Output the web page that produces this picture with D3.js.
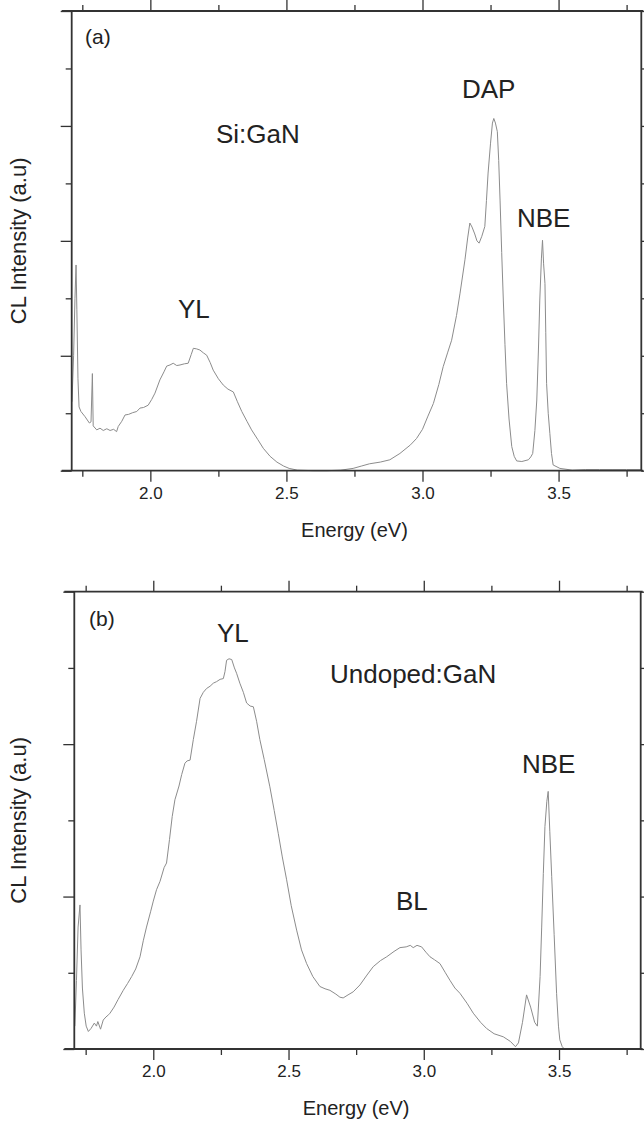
<!DOCTYPE html>
<html>
<head>
<meta charset="utf-8">
<script src="https://cdn.jsdelivr.net/npm/d3@7/dist/d3.min.js"></script>
<style>
html,body{margin:0;padding:0;background:#fff;}
svg{display:block;}
text{font-family:"Liberation Sans",Arial,sans-serif;fill:#222;}
</style>
</head>
<body>
<svg id="chart" width="644" height="1124"></svg>
<script>
// ---------- DATA ----------
const xTickLabels = ["2.0", "2.5", "3.0", "3.5"];
const xMajorTicks = [2.0, 2.5, 3.0, 3.5];
const xMinorTicks = [1.75, 2.25, 2.75, 3.25, 3.75];

// Panel (a) Si:GaN
const siEnergy = [1.712,1.718,1.723,1.727,1.730,1.734,1.738,1.745,1.760,1.776,1.782,1.787,1.790,1.803,1.815,1.827,1.840,1.852,1.865,1.876,1.882,1.895,1.907,1.920,1.935,1.950,1.962,1.975,1.992,2.005,2.017,2.035,2.050,2.060,2.072,2.084,2.097,2.109,2.125,2.139,2.150,2.158,2.170,2.182,2.195,2.207,2.220,2.231,2.250,2.268,2.285,2.305,2.320,2.336,2.355,2.372,2.395,2.415,2.440,2.465,2.490,2.510,2.540,2.600,2.650,2.700,2.745,2.775,2.805,2.845,2.880,2.917,2.956,2.978,3.000,3.020,3.040,3.060,3.076,3.092,3.107,3.125,3.138,3.156,3.166,3.174,3.182,3.192,3.200,3.208,3.218,3.229,3.235,3.241,3.250,3.257,3.262,3.268,3.275,3.280,3.285,3.291,3.297,3.303,3.309,3.318,3.328,3.337,3.346,3.365,3.389,3.398,3.405,3.413,3.420,3.426,3.431,3.437,3.441,3.445,3.450,3.453,3.456,3.462,3.468,3.474,3.480,3.505,3.550,3.600,3.650,3.700,3.750,3.803];
const siIntensity = [1.2,2.0,3.0,3.58,2.8,1.6,1.11,1.03,0.94,0.83,0.85,1.69,0.78,0.71,0.74,0.70,0.73,0.70,0.72,0.68,0.77,0.86,0.97,0.98,1.01,1.03,1.09,1.10,1.14,1.24,1.35,1.58,1.72,1.82,1.84,1.87,1.83,1.84,1.86,1.87,2.02,2.13,2.12,2.10,2.05,2.01,1.88,1.75,1.60,1.49,1.42,1.37,1.20,1.03,0.86,0.71,0.54,0.39,0.25,0.15,0.08,0.04,0.01,0.0,0.0,0.01,0.04,0.08,0.12,0.15,0.19,0.30,0.45,0.56,0.72,0.95,1.17,1.50,1.81,2.05,2.27,2.70,3.09,3.67,4.05,4.31,4.24,4.12,4.00,3.96,4.08,4.25,4.70,5.18,5.70,6.05,6.13,6.05,5.90,5.40,4.71,3.80,2.97,2.20,1.52,0.90,0.42,0.25,0.17,0.16,0.19,0.24,0.30,0.70,1.23,2.10,2.97,3.70,4.01,3.60,3.26,2.40,1.52,1.00,0.65,0.30,0.10,0.04,0.01,0.02,0.02,0.02,0.02,0.02];

// Panel (b) Undoped:GaN
const unEnergy = [1.710,1.716,1.722,1.729,1.733,1.738,1.745,1.752,1.760,1.770,1.782,1.790,1.795,1.805,1.815,1.825,1.835,1.840,1.855,1.870,1.889,1.905,1.920,1.935,1.951,1.963,1.975,1.990,2.000,2.012,2.025,2.040,2.049,2.060,2.070,2.080,2.095,2.105,2.117,2.125,2.136,2.148,2.160,2.173,2.185,2.197,2.210,2.222,2.234,2.247,2.259,2.265,2.271,2.280,2.290,2.300,2.308,2.320,2.333,2.345,2.358,2.370,2.382,2.394,2.410,2.431,2.447,2.462,2.477,2.493,2.510,2.530,2.548,2.567,2.590,2.616,2.635,2.653,2.675,2.690,2.702,2.720,2.739,2.764,2.790,2.813,2.840,2.863,2.890,2.912,2.935,2.950,2.961,2.975,2.992,3.008,3.023,3.040,3.060,3.080,3.097,3.115,3.134,3.160,3.183,3.210,3.232,3.260,3.294,3.320,3.339,3.350,3.365,3.380,3.395,3.410,3.420,3.430,3.436,3.442,3.448,3.455,3.460,3.466,3.473,3.482,3.491,3.498,3.503,3.512,3.520];
const unIntensity = [0.3,0.9,1.6,1.89,1.3,0.8,0.47,0.30,0.23,0.27,0.34,0.30,0.36,0.26,0.38,0.42,0.45,0.47,0.55,0.65,0.77,0.86,0.95,1.05,1.21,1.42,1.60,1.80,1.94,2.09,2.20,2.38,2.44,2.75,3.05,3.27,3.45,3.60,3.75,3.78,3.79,4.06,4.30,4.60,4.68,4.73,4.76,4.80,4.82,4.85,4.86,4.95,5.10,5.12,5.11,5.00,4.93,4.80,4.68,4.54,4.50,4.49,4.30,4.06,3.80,3.44,3.13,2.83,2.52,2.22,1.88,1.56,1.30,1.12,0.95,0.82,0.79,0.77,0.72,0.68,0.67,0.71,0.75,0.84,0.97,1.08,1.16,1.21,1.28,1.33,1.34,1.36,1.33,1.36,1.34,1.27,1.21,1.17,1.12,1.00,0.90,0.80,0.73,0.60,0.47,0.35,0.27,0.20,0.16,0.10,0.03,0.08,0.35,0.71,0.55,0.35,0.30,0.95,1.60,2.30,2.92,3.25,3.38,2.85,2.26,1.50,0.73,0.30,0.12,0.03,0.0];

// ---------- DRAW ----------
const svg = d3.select("#chart");
const AXIS = "#333";
const LINE = "#8c8c8c";

function panel(cfg) {
  const g = svg.append("g");
  const x = d3.scaleLinear().domain(cfg.xDomain).range([cfg.left, cfg.right]);
  const y = d3.scaleLinear().domain(cfg.yDomain).range([cfg.bottom, cfg.top]);
  const yMaj = d3.range(cfg.yDomain[0], cfg.yDomain[1] + 1, 2);
  const yMin = d3.range(cfg.yDomain[0] + 1, cfg.yDomain[1], 2);

  // data line
  const pts = cfg.e.map((d, i) => [d, cfg.v[i]]);
  g.append("path")
    .datum(pts)
    .attr("fill", "none")
    .attr("stroke", LINE)
    .attr("stroke-width", 1)
    .attr("d", d3.line().x(d => x(d[0])).y(d => y(d[1])));

  function styleAxis(sel) {
    sel.select(".domain").remove();
    sel.selectAll(".tick line").attr("stroke", AXIS).attr("stroke-width", 1.3);
  }
  // bottom axis
  g.append("g").attr("transform", `translate(0,${cfg.bottom})`)
    .call(d3.axisBottom(x).tickValues(xMajorTicks).tickSize(11).tickPadding(5)
      .tickFormat((d, i) => xTickLabels[i]))
    .call(styleAxis)
    .call(s => s.selectAll("text").attr("font-size", 17).attr("fill", "#333")
      .attr("font-family", "'Liberation Sans', Arial, sans-serif"));
  g.append("g").attr("transform", `translate(0,${cfg.bottom})`)
    .call(d3.axisBottom(x).tickValues(xMinorTicks).tickSize(6).tickFormat(""))
    .call(styleAxis);
  // top axis
  g.append("g").attr("transform", `translate(0,${cfg.top})`)
    .call(d3.axisTop(x).tickValues(xMajorTicks).tickSize(11).tickFormat(""))
    .call(styleAxis);
  g.append("g").attr("transform", `translate(0,${cfg.top})`)
    .call(d3.axisTop(x).tickValues(xMinorTicks).tickSize(6).tickFormat(""))
    .call(styleAxis);
  // left axis
  g.append("g").attr("transform", `translate(${cfg.left},0)`)
    .call(d3.axisLeft(y).tickValues(yMaj).tickSize(11).tickFormat(""))
    .call(styleAxis);
  g.append("g").attr("transform", `translate(${cfg.left},0)`)
    .call(d3.axisLeft(y).tickValues(yMin).tickSize(6).tickFormat(""))
    .call(styleAxis);
  // right axis
  g.append("g").attr("transform", `translate(${cfg.right},0)`)
    .call(d3.axisRight(y).tickValues(yMaj).tickSize(11).tickFormat(""))
    .call(styleAxis);
  g.append("g").attr("transform", `translate(${cfg.right},0)`)
    .call(d3.axisRight(y).tickValues(yMin).tickSize(6).tickFormat(""))
    .call(styleAxis);

  // frame
  const fr = g.append("g").attr("stroke", AXIS).attr("stroke-width", 1.8).attr("fill", "none");
  fr.append("line").attr("x1", cfg.left - 10).attr("x2", cfg.right + 2).attr("y1", cfg.top).attr("y2", cfg.top);
  fr.append("line").attr("x1", cfg.left - 10).attr("x2", cfg.right + 2).attr("y1", cfg.bottom).attr("y2", cfg.bottom);
  fr.append("line").attr("x1", cfg.left).attr("x2", cfg.left).attr("y1", cfg.top).attr("y2", cfg.bottom);
  fr.append("line").attr("x1", cfg.right).attr("x2", cfg.right).attr("y1", cfg.top).attr("y2", cfg.bottom);

  // axis titles
  g.append("text").attr("x", x(2.75)).attr("y", cfg.bottom + 66)
    .attr("text-anchor", "middle").attr("font-size", 20).text("Energy (eV)");
  g.append("text")
    .attr("transform", `translate(26,${(cfg.top + cfg.bottom) / 2}) rotate(-90)`)
    .attr("text-anchor", "middle").attr("font-size", 22).text("CL Intensity (a.u)");

  // annotations
  cfg.labels.forEach(l => {
    g.append("text").attr("x", l.x).attr("y", l.y).attr("font-size", l.s).text(l.t);
  });
}

panel({
  left: 71.7, right: 641.3, top: 11, bottom: 470.7,
  xDomain: [1.711, 3.804], yDomain: [0, 8],
  e: siEnergy, v: siIntensity,
  labels: [
    {t: "(a)", x: 85, y: 44, s: 21},
    {t: "Si:GaN", x: 216, y: 143, s: 26},
    {t: "DAP", x: 462, y: 98, s: 26},
    {t: "NBE", x: 517, y: 227, s: 26},
    {t: "YL", x: 178, y: 318, s: 26}
  ]
});

panel({
  left: 74.3, right: 640.7, top: 591.7, bottom: 1049,
  xDomain: [1.708, 3.802], yDomain: [0, 6],
  e: unEnergy, v: unIntensity,
  labels: [
    {t: "(b)", x: 89, y: 626, s: 21},
    {t: "YL", x: 217, y: 642, s: 26},
    {t: "Undoped:GaN", x: 330, y: 683, s: 26},
    {t: "BL", x: 396, y: 910, s: 26},
    {t: "NBE", x: 522, y: 773, s: 26}
  ]
});
</script>
</body>
</html>
